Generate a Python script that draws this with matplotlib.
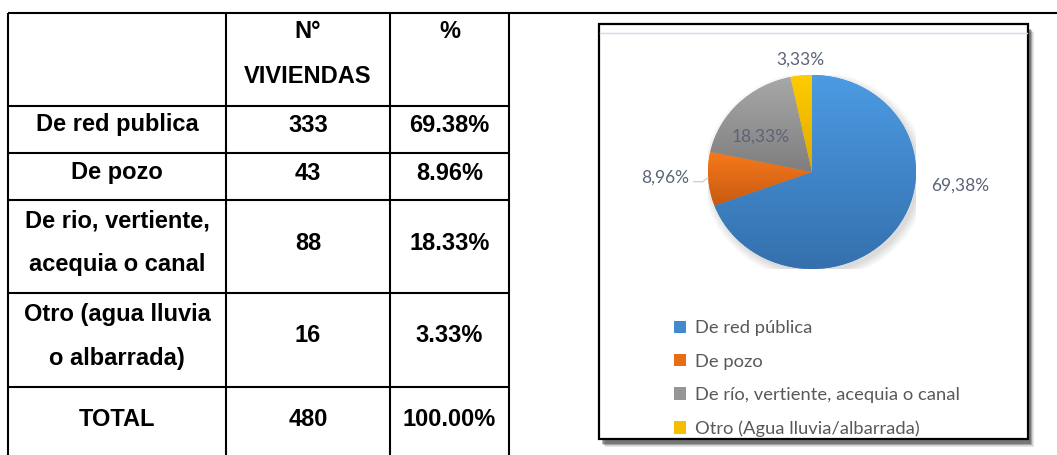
import numpy as np
import matplotlib
matplotlib.use("Agg")
import matplotlib.pyplot as plt
from matplotlib.patches import Rectangle, Patch, Ellipse
from matplotlib.colors import LinearSegmentedColormap

# ---------------- data ----------------
categories = ["De red publica", "De pozo", "De rio, vertiente,\nacequia o canal",
              "Otro (agua lluvia\no albarrada)"]
counts = [333, 43, 88, 16]
pcts = [69.38, 8.96, 18.33, 3.33]
total_count = 480
total_pct = 100.00
header = ["", "N°\nVIVIENDAS", "%"]

legend_labels = ["De red pública", "De pozo", "De río, vertiente, acequia o canal",
                 "Otro (Agua lluvia/albarrada)"]
pie_labels = ["69,38%", "8,96%", "18,33%", "3,33%"]

# ---------------- style ----------------
W, H = 1057, 455
fig = plt.figure(figsize=(W / 100, H / 100), dpi=100)
fig.patch.set_facecolor("white")
bg = fig.add_axes([0, 0, 1, 1])
bg.set_xlim(0, W)
bg.set_ylim(H, 0)
bg.axis("off")

TFONT = "Liberation Sans"
tfs = 17
lw = 1.5
# table grid (layout)
col_x = [8, 226, 390, 509]
row_y = [13, 106, 153, 200, 293, 387]
bg.plot([col_x[0], W], [row_y[0], row_y[0]], color="black", lw=lw, solid_capstyle="butt")
for x in col_x:
    bg.plot([x, x], [row_y[0], H + 2], color="black", lw=lw, solid_capstyle="butt")
for y in row_y[1:]:
    bg.plot([col_x[0], col_x[-1]], [y, y], color="black", lw=lw, solid_capstyle="butt")

col_c = [(col_x[i] + col_x[i + 1]) / 2 for i in range(3)]
cap = 8.5  # half cap height in px
line_gap = 44


def cell_text(x, yc, s):
    lines = s.split("\n")
    n = len(lines)
    for i, ln in enumerate(lines):
        y = yc + (i - (n - 1) / 2) * line_gap
        bg.text(x, y + cap, ln, ha="center", va="baseline", fontsize=tfs,
                fontweight="bold", family=TFONT, color="black")


# header (top-aligned)
bg.text(col_c[1], 29 + cap, header[1].split("\n")[0], ha="center", va="baseline",
        fontsize=tfs, fontweight="bold", family=TFONT)
bg.text(col_c[1], 74.5 + cap, header[1].split("\n")[1], ha="center", va="baseline",
        fontsize=tfs, fontweight="bold", family=TFONT)
bg.text(col_c[2], 29 + cap, header[2], ha="center", va="baseline",
        fontsize=tfs, fontweight="bold", family=TFONT)

row_centers = [123, 171, 241, 334]
for cat, c, p, yc in zip(categories, counts, pcts, row_centers):
    cell_text(col_c[0], yc, cat)
    cell_text(col_c[1], yc, str(c))
    cell_text(col_c[2], yc, f"{p:.2f}%")
cell_text(col_c[0], 417.5, "TOTAL")
cell_text(col_c[1], 417.5, str(total_count))
cell_text(col_c[2], 417.5, f"{total_pct:.2f}%")

# chart frame with shadow
fx0, fy0, fx1, fy1 = 599, 24, 1028, 439
for k, a in zip(range(7, 0, -1), [0.04, 0.06, 0.08, 0.1, 0.12, 0.14, 0.16]):
    bg.add_patch(Rectangle((fx0 + 2 + k * 0.6, fy0 + 4 + k * 0.6), fx1 - fx0, fy1 - fy0,
                           facecolor="black", edgecolor="none", alpha=a, zorder=1))
bg.add_patch(Rectangle((fx0, fy0), fx1 - fx0, fy1 - fy0, facecolor="white",
                       edgecolor="black", lw=1.6, zorder=2))
bg.plot([fx0 + 1, fx1 - 1], [33, 33], color="#D5DBE6", lw=1.0, zorder=3)

# ---------------- pie ----------------
cx, cy, rx, ry = 812, 172, 104, 97
pax = fig.add_axes([(cx - rx) / W, (H - cy - ry) / H, 2 * rx / W, 2 * ry / H])
pax.set_zorder(5)
pax.patch.set_alpha(0)

top_colors = ["#4C9BE3", "#F7791A", "#A8A8A8", "#FFCC00"]
bot_colors = ["#3470AD", "#C65A12", "#7E7E7E", "#E0A800"]
mid_colors = ["#418AD0", "#E96C16", "#969696", "#F5BE00"]

# soft shadow
for k in range(6):
    pax.add_patch(Ellipse((0.03, -0.04), 2.0 + 0.03 * k, 2.0 + 0.03 * k,
                          facecolor="black", edgecolor="none", alpha=0.025, zorder=0))

wedges, _ = pax.pie(pcts, startangle=90, counterclock=False, colors=mid_colors,
                    radius=1.0, wedgeprops=dict(linewidth=0))
pax.set_aspect("auto")
pax.set_xlim(-1, 1)
pax.set_ylim(-1, 1)
pax.axis("off")

for w, tc, bc in zip(wedges, top_colors, bot_colors):
    ext = w.get_path().get_extents()
    cmap = LinearSegmentedColormap.from_list("g", [bc, tc])
    grad = np.linspace(0, 1, 256).reshape(-1, 1)
    im = pax.imshow(grad, cmap=cmap, origin="lower", aspect="auto",
                    extent=[ext.x0, ext.x1, ext.y0, ext.y1], zorder=2, interpolation="bilinear")
    im.set_clip_path(w)
pax.set_xlim(-1, 1)
pax.set_ylim(-1, 1)

lab_color = "#5B6477"
LFONT = "Lato"
lfs = 12.5
label_pos = [(1.423, -0.141), (-1.413, -0.062), (-0.49, 0.36), (-0.115, 1.155)]
for lab, (lx, ly) in zip(pie_labels, label_pos):
    pax.text(lx, ly, lab, ha="center", va="center", fontsize=lfs, family=LFONT,
             color=lab_color, zorder=6)
# leader line for small orange slice
pax.plot([-1.14, -1.05, -1.0], [-0.10, -0.10, -0.06], color="#C8CDD6", lw=0.9,
         zorder=6, clip_on=False)

# legend
handles = [Patch(facecolor=c, edgecolor="none") for c in mid_colors]
leg = fig.legend(handles, legend_labels, loc="upper left",
                 bbox_to_anchor=(665 / W, 1 - 311 / H), frameon=False,
                 prop=dict(family=LFONT, size=13.2), labelcolor="#595959",
                 handlelength=0.65, handleheight=0.65, handletextpad=0.5,
                 labelspacing=0.95, borderpad=0)

fig.savefig("out.png", dpi=100, facecolor="white")
